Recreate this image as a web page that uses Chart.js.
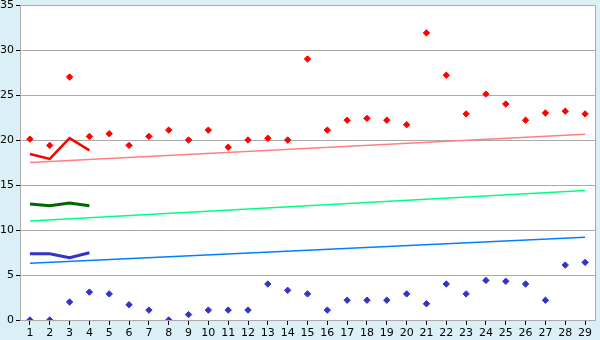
<!DOCTYPE html>
<html>
<head>
<meta charset="UTF-8">
<title>Chart</title>
<script src="https://cdn.jsdelivr.net/npm/chart.js"></script>
<style>
  body { margin: 0; background: #daf0f6; }
  canvas { display: block; }
</style>
</head>
<body>
<canvas id="grafico" width="600" height="340"></canvas>
<script>
// categorias del eje x
const categorias = ['1','2','3','4','5','6','7','8','9','10','11','12','13','14','15','16','17','18','19','20','21','22','23','24','25','26','27','28','29'];

// puntos sueltos
const puntosRojos = [20.1, 19.4, 27.0, 20.4, 20.7, 19.4, 20.4, 21.1, 20.0, 21.1, 19.2, 20.0, 20.2, 20.0, 29.0, 21.1, 22.2, 22.4, 22.2, 21.7, 31.9, 27.2, 22.9, 25.1, 24.0, 22.2, 23.0, 23.2, 22.9];
const puntosAzules = [0, 0, 2.0, 3.1, 2.9, 1.7, 1.1, 0, 0.6, 1.1, 1.1, 1.1, 4.0, 3.3, 2.9, 1.1, 2.2, 2.2, 2.2, 2.9, 1.8, 4.0, 2.9, 4.4, 4.3, 4.0, 2.2, 6.1, 6.4];

// lineas cortas (categorias 1 a 4)
const lineaRoja = [18.45, 17.9, 20.2, 18.85];
const lineaVerde = [12.9, 12.7, 13.0, 12.7];
const lineaAzul = [7.37, 7.37, 6.93, 7.48];

// tendencias: valor inicial (cat 1) y final (cat 29)
const tendRoja = [17.5, 20.65];
const tendVerde = [11.0, 14.4];
const tendAzul = [6.3, 9.2];

const ticksY = { min: 0, max: 35, paso: 5 };

function tendencia(v) {
    return [{ x: categorias[0], y: v[0] }, { x: categorias[categorias.length - 1], y: v[1] }];
}

// fondo blanco y marco del area de trazado
const fondoArea = {
    id: 'fondoArea',
    beforeDraw(chart) {
        const a = chart.chartArea;
        const ctx = chart.ctx;
        ctx.save();
        ctx.fillStyle = '#ffffff';
        ctx.fillRect(a.left, a.top, a.right - a.left, a.bottom - a.top);
        ctx.restore();
    },
    afterDraw(chart) {
        const a = chart.chartArea;
        const ctx = chart.ctx;
        ctx.save();
        ctx.strokeStyle = '#aaaaaa';
        ctx.lineWidth = 1;
        ctx.beginPath();
        ctx.moveTo(a.left, a.top + 0.5);
        ctx.lineTo(a.right + 0.5, a.top + 0.5);
        ctx.lineTo(a.right + 0.5, a.bottom);
        ctx.stroke();
        ctx.restore();
    }
};

Chart.defaults.font.family = '"DejaVu Sans", sans-serif';
Chart.defaults.font.size = 11;
Chart.defaults.color = '#000';

const ctx = document.getElementById('grafico').getContext('2d');
new Chart(ctx, {
    type: 'line',
    data: {
        labels: categorias,
        datasets: [
            { data: tendencia(tendRoja), borderColor: '#ff8080', borderWidth: 1.5, pointRadius: 0, order: 5 },
            { data: tendencia(tendVerde), borderColor: '#00ff80', borderWidth: 1.5, pointRadius: 0, order: 5 },
            { data: tendencia(tendAzul), borderColor: '#0080ff', borderWidth: 1.5, pointRadius: 0, order: 5 },
            { data: lineaRoja, borderColor: '#ff0000', borderWidth: 2.5, pointRadius: 0, order: 3 },
            { data: lineaVerde, borderColor: '#006600', borderWidth: 3, pointRadius: 0, order: 3 },
            { data: lineaAzul, borderColor: '#3333cc', borderWidth: 3, pointRadius: 0, order: 3 },
            { data: puntosRojos, showLine: false, pointStyle: 'rectRot', pointRadius: 3.2,
              pointBackgroundColor: '#ff0000', pointBorderColor: '#ff0000', pointBorderWidth: 1, order: 1 },
            { data: puntosAzules, showLine: false, pointStyle: 'rectRot', pointRadius: 3.2,
              pointBackgroundColor: '#3333cc', pointBorderColor: '#3333cc', pointBorderWidth: 1, order: 1 }
        ]
    },
    options: {
        responsive: false,
        animation: false,
        layout: { padding: { top: 5, right: 5, left: 0, bottom: 0 } },
        plugins: { legend: { display: false }, tooltip: { enabled: false } },
        elements: { line: { tension: 0 } },
        scales: {
            x: {
                offset: true,
                grid: { drawOnChartArea: false, tickColor: '#000', tickLength: 5, offset: false },
                border: { color: '#aaaaaa' },
                ticks: { padding: 2, maxRotation: 0, autoSkip: false },
                afterFit(s) { s.height = 20; s.paddingLeft = 0; s.paddingRight = 0; }
            },
            y: {
                min: ticksY.min,
                max: ticksY.max,
                grid: { color: '#aaaaaa', tickColor: '#000', tickLength: 4 },
                border: { color: '#aaaaaa' },
                ticks: { stepSize: ticksY.paso, padding: 2 },
                afterFit(s) { s.width = 20; s.paddingTop = 0; s.paddingBottom = 0; }
            }
        }
    },
    plugins: [fondoArea]
});
</script>
</body>
</html>
